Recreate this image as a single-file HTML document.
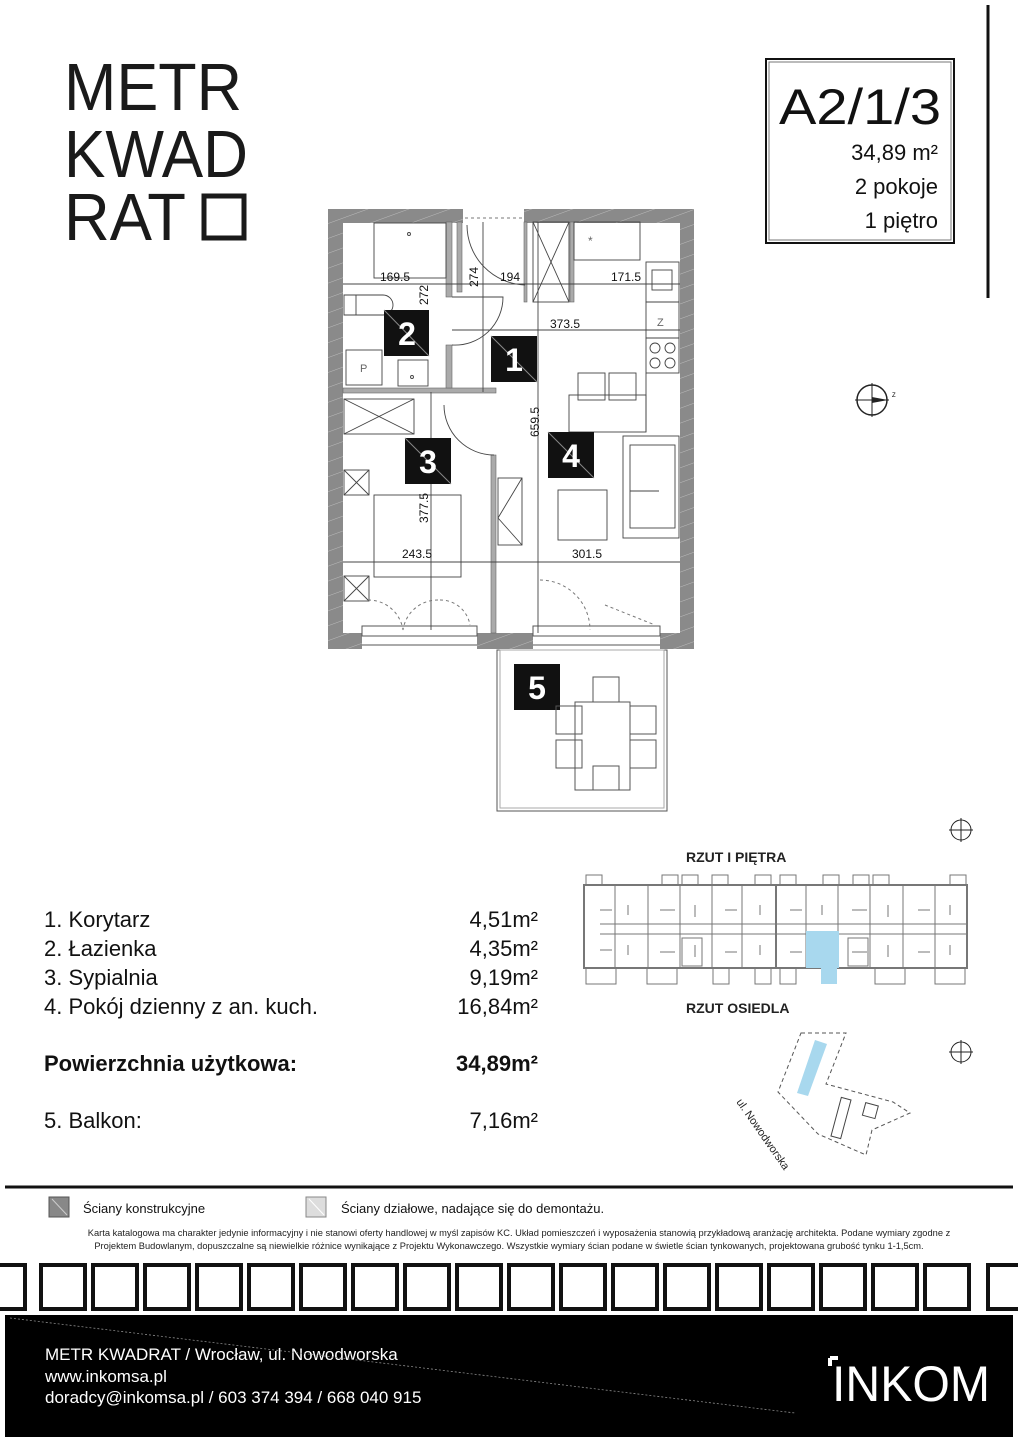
<!DOCTYPE html>
<html><head><meta charset="utf-8"><style>
html,body{margin:0;padding:0;background:#fff}
svg{display:block}
text{font-family:"Liberation Sans",sans-serif}
</style></head><body>
<svg width="1018" height="1440" viewBox="0 0 1018 1440" xmlns="http://www.w3.org/2000/svg">
<defs>
<pattern id="h" width="14" height="14" patternUnits="userSpaceOnUse" patternTransform="rotate(70)">
<rect width="14" height="14" fill="#8a8a8a"/><line x1="0" y1="0" x2="0" y2="14" stroke="#bbb" stroke-width="1"/>
</pattern>
</defs>
<!-- logo -->
<g fill="#1a1a1a" font-size="67">
<text x="64" y="110" textLength="178" lengthAdjust="spacingAndGlyphs">METR</text>
<text x="64" y="177" textLength="184" lengthAdjust="spacingAndGlyphs">KWAD</text>
<text x="64" y="240" textLength="122" lengthAdjust="spacingAndGlyphs">RAT</text>
</g>
<rect x="204" y="196" width="40" height="42" fill="none" stroke="#1a1a1a" stroke-width="5"/>
<!-- title box -->
<rect x="766" y="59" width="188" height="184" fill="none" stroke="#111" stroke-width="2"/>
<rect x="769" y="62" width="182" height="178" fill="none" stroke="#777" stroke-width="1"/>
<line x1="988" y1="5" x2="988" y2="298" stroke="#111" stroke-width="3"/>
<g fill="#111">
<text x="779" y="124" font-size="50" textLength="162" lengthAdjust="spacingAndGlyphs">A2/1/3</text>
<g text-anchor="end">
<text x="938" y="160" font-size="22">34,89 m²</text>
<text x="938" y="194" font-size="22">2 pokoje</text>
<text x="938" y="228" font-size="22">1 piętro</text>
</g></g>
<!-- compass -->
<g stroke="#222" fill="none"><circle cx="872" cy="400" r="15" stroke-width="1.5"/><line x1="855" y1="400" x2="889" y2="400"/><line x1="872" y1="383" x2="872" y2="417"/></g>
<polygon points="872,397 888,400 872,403" fill="#222"/><text x="892" y="397" font-size="6">Z</text>

<!-- floor plan -->
<g>
<rect x="328" y="209" width="366" height="440" fill="url(#h)"/>
<rect x="343" y="223" width="337" height="410" fill="#fff"/>
<rect x="463" y="209" width="61" height="16" fill="#fff"/>
<rect x="362" y="633" width="115" height="16" fill="#fff"/>
<rect x="533" y="633" width="127" height="16" fill="#fff"/>
<g fill="none" stroke="#555" stroke-width="1">
<rect x="362" y="626" width="115" height="10"/><rect x="533" y="626" width="127" height="10"/>
<line x1="362" y1="645" x2="477" y2="645"/><line x1="533" y1="645" x2="660" y2="645"/>
</g>
</g>
<g fill="#aaa" stroke="#666" stroke-width="0.6">
<rect x="343" y="388" width="153" height="5"/>
<rect x="446" y="222" width="6" height="75"/>
<rect x="446" y="345" width="6" height="43"/>
<rect x="491" y="455" width="5" height="178"/>
<rect x="457" y="222" width="5" height="70"/>
<rect x="524" y="222" width="3" height="80"/>
<rect x="570" y="222" width="4" height="80"/>
</g>
<g fill="none" stroke="#444" stroke-width="0.9">
<rect x="374" y="223" width="72" height="55"/><circle cx="409" cy="234" r="1.5"/>
<path d="M344 295 H383 A10 10 0 0 1 383 315 H344 Z"/><line x1="356" y1="295" x2="356" y2="315"/>
<rect x="346" y="350" width="36" height="35"/><text x="360" y="372" font-size="11" fill="#666" stroke="none">P</text>
<rect x="398" y="360" width="30" height="26"/><circle cx="412" cy="377" r="1.5"/>
<path d="M467 225 A60 60 0 0 0 525 285"/>
<path d="M452 297 H503 A48 48 0 0 1 452 345"/>
<path d="M444 405 A50 50 0 0 0 494 455"/>
<rect x="533" y="222" width="36" height="80"/><line x1="533" y1="222" x2="569" y2="302"/><line x1="569" y1="222" x2="533" y2="302"/>
<rect x="574" y="222" width="66" height="38"/><text x="588" y="245" font-size="12" fill="#666" stroke="none">*</text>
<rect x="646" y="262" width="33" height="40"/><rect x="652" y="270" width="20" height="20"/>
<rect x="646" y="302" width="33" height="36"/><text x="657" y="326" font-size="11" fill="#666" stroke="none">Z</text>
<rect x="646" y="338" width="33" height="35"/><circle cx="655" cy="348" r="5"/><circle cx="670" cy="348" r="5"/><circle cx="655" cy="363" r="5"/><circle cx="670" cy="363" r="5"/>
<line x1="646" y1="373" x2="646" y2="432"/>
<rect x="569" y="395" width="77" height="37"/><rect x="578" y="373" width="27" height="27"/><rect x="609" y="373" width="27" height="27"/>
<rect x="623" y="436" width="56" height="102"/><rect x="630" y="445" width="45" height="83"/><line x1="630" y1="491" x2="659" y2="491"/>
<rect x="558" y="490" width="49" height="50"/>
<rect x="344" y="399" width="70" height="35"/><line x1="344" y1="399" x2="414" y2="434"/><line x1="414" y1="399" x2="344" y2="434"/>
<rect x="344" y="470" width="25" height="25"/><line x1="344" y1="470" x2="369" y2="495"/><line x1="369" y1="470" x2="344" y2="495"/>
<rect x="344" y="576" width="25" height="25"/><line x1="344" y1="576" x2="369" y2="601"/><line x1="369" y1="576" x2="344" y2="601"/>
<rect x="374" y="495" width="87" height="82"/>
<rect x="498" y="478" width="24" height="67"/><polyline points="522,478 498,518 522,545"/>
<line x1="343" y1="284" x2="680" y2="284"/><line x1="452" y1="330" x2="680" y2="330"/>
<line x1="538" y1="222" x2="538" y2="633"/><line x1="483" y1="222" x2="483" y2="392"/>
<line x1="431" y1="392" x2="431" y2="630"/>
<line x1="343" y1="562" x2="680" y2="562"/>
</g>
<g stroke="#777" stroke-dasharray="3,3" fill="none">
<path d="M368 600 A35 35 0 0 1 403 630"/><path d="M438 600 A35 35 0 0 0 403 630"/>
<path d="M440 600 A30 30 0 0 1 470 625"/><path d="M540 580 A50 50 0 0 1 590 630"/>
<path d="M605 605 L655 625"/><line x1="465" y1="218" x2="524" y2="218"/>
</g>
<g font-size="12" fill="#111" text-anchor="middle">
<text x="395" y="281">169.5</text><text x="510" y="281">194</text><text x="626" y="281">171.5</text>
<text x="565" y="328">373.5</text><text x="417" y="558">243.5</text><text x="587" y="558">301.5</text>
<text transform="translate(478,277) rotate(-90)">274</text>
<text transform="translate(428,295) rotate(-90)">272</text>
<text transform="translate(539,422) rotate(-90)">659.5</text>
<text transform="translate(428,508) rotate(-90)">377.5</text>
</g>
<g fill="#111"><rect x="384" y="310" width="45" height="46"/><rect x="491" y="336" width="46" height="46"/><rect x="405" y="438" width="46" height="46"/><rect x="548" y="432" width="46" height="46"/><rect x="514" y="664" width="46" height="46"/></g>
<g stroke="#888" stroke-width="1"><line x1="384" y1="310" x2="429" y2="356"/><line x1="491" y1="336" x2="537" y2="382"/><line x1="405" y1="438" x2="451" y2="484"/><line x1="548" y1="432" x2="594" y2="478"/></g>
<g fill="#fff" font-size="32" font-weight="bold" text-anchor="middle">
<text x="407" y="345">2</text><text x="514" y="371">1</text><text x="428" y="473">3</text><text x="571" y="467">4</text><text x="537" y="699">5</text>
</g>
<g fill="none" stroke="#555" stroke-width="1">
<rect x="497" y="650" width="170" height="161"/><rect x="500" y="650" width="164" height="158" stroke="#aaa"/>
<rect x="575" y="702" width="55" height="88"/>
<rect x="593" y="677" width="26" height="25"/><rect x="593" y="766" width="26" height="24"/>
<rect x="556" y="706" width="26" height="28"/><rect x="556" y="740" width="26" height="28"/>
<rect x="630" y="706" width="26" height="28"/><rect x="630" y="740" width="26" height="28"/>
</g>

<g font-size="22" fill="#111">
<text x="44" y="927">1. Korytarz</text><text x="44" y="956">2. Łazienka</text><text x="44" y="985">3. Sypialnia</text><text x="44" y="1014">4. Pokój dzienny z an. kuch.</text>
<text x="44" y="1071" font-weight="bold">Powierzchnia użytkowa:</text>
<text x="44" y="1128">5. Balkon:</text>
<g text-anchor="end"><text x="538" y="927">4,51m²</text><text x="538" y="956">4,35m²</text><text x="538" y="985">9,19m²</text><text x="538" y="1014">16,84m²</text><text x="538" y="1071" font-weight="bold">34,89m²</text><text x="538" y="1128">7,16m²</text></g>
</g>

<g font-size="14" font-weight="bold" fill="#222"><text x="686" y="862">RZUT I PIĘTRA</text><text x="686" y="1013">RZUT OSIEDLA</text></g>
<g fill="none" stroke="#777" stroke-width="2">
<rect x="584" y="885" width="383" height="83"/>
<line x1="600" y1="924" x2="967" y2="924" stroke-width="1"/><line x1="600" y1="934" x2="967" y2="934" stroke-width="1"/>
<line x1="776" y1="885" x2="776" y2="968"/>
<g stroke-width="1">
<path d="M615 885V968M648 885V968M680 885V968M712 885V968M742 885V968M806 885V968M838 885V968M870 885V968M903 885V968M935 885V968"/>
<path d="M600 910h12M628 905v10M660 910h15M695 905v12M725 910h12M760 905v10M790 910h12M822 905v10M852 910h15M888 905v12M918 910h12M950 905v10"/>
<path d="M600 950h12M628 945v10M660 952h15M695 945v12M725 952h12M760 945v10M790 952h12M822 945v10M852 952h15M888 945v12M918 952h12M950 945v10"/>
<rect x="682" y="938" width="20" height="28"/><rect x="848" y="938" width="20" height="28"/>
<rect x="586" y="875" width="16" height="10"/><rect x="662" y="875" width="16" height="10"/><rect x="682" y="875" width="16" height="10"/><rect x="712" y="875" width="16" height="10"/><rect x="755" y="875" width="16" height="10"/><rect x="780" y="875" width="16" height="10"/><rect x="823" y="875" width="16" height="10"/><rect x="853" y="875" width="16" height="10"/><rect x="873" y="875" width="16" height="10"/><rect x="950" y="875" width="16" height="10"/>
<rect x="586" y="968" width="30" height="16"/><rect x="647" y="968" width="30" height="16"/><rect x="713" y="968" width="16" height="16"/><rect x="755" y="968" width="16" height="16"/><rect x="780" y="968" width="16" height="16"/><rect x="875" y="968" width="30" height="16"/><rect x="935" y="968" width="30" height="16"/>
</g></g>
<rect x="806" y="931" width="33" height="37" fill="#a8d8ee"/><rect x="821" y="968" width="16" height="16" fill="#a8d8ee"/>
<g stroke="#222" fill="none"><circle cx="961" cy="830" r="10"/><line x1="949" y1="830" x2="973" y2="830"/><line x1="961" y1="818" x2="961" y2="842"/>
<circle cx="961" cy="1052" r="10"/><line x1="949" y1="1052" x2="973" y2="1052"/><line x1="961" y1="1040" x2="961" y2="1064"/></g>
<path d="M801 1033 L846 1033 L826 1084 L893 1102 L910 1113 L872 1130 L866 1155 L818 1134 L778 1092 Z" fill="none" stroke="#555" stroke-dasharray="4,3"/>
<polygon points="815,1040 827,1044 808,1096 797,1093" fill="#a8d8ee"/>
<rect x="836" y="1098" width="10" height="40" fill="none" stroke="#444" transform="rotate(15 841 1118)"/>
<rect x="864" y="1104" width="13" height="13" fill="none" stroke="#444" transform="rotate(15 870 1110)"/>
<text transform="translate(736,1102) rotate(55)" font-size="11" fill="#222">ul. Nowodworska</text>

<line x1="5" y1="1187" x2="1013" y2="1187" stroke="#111" stroke-width="3"/>
<rect x="49" y="1197" width="20" height="20" fill="#888" stroke="#555"/><line x1="52" y1="1199" x2="67" y2="1215" stroke="#ccc"/>
<rect x="306" y="1197" width="20" height="20" fill="#ddd" stroke="#888"/><line x1="309" y1="1199" x2="324" y2="1215" stroke="#fff"/>
<text x="83" y="1213" font-size="13" fill="#111">Ściany konstrukcyjne</text>
<text x="341" y="1213" font-size="13" fill="#111">Ściany działowe, nadające się do demontażu.</text>
<g font-size="9.3" fill="#222" text-anchor="middle">
<text x="519" y="1236">Karta katalogowa ma charakter jedynie informacyjny i nie stanowi oferty handlowej w myśl zapisów KC. Układ pomieszczeń i wyposażenia stanowią przykładową aranżację architekta. Podane wymiary zgodne z</text>
<text x="509" y="1249">Projektem Budowlanym, dopuszczalne są niewielkie różnice wynikające z Projektu Wykonawczego. Wszystkie wymiary ścian podane w świetle ścian tynkowanych, projektowana grubość tynku 1-1,5cm.</text>
</g>
<g fill="none" stroke="#111" stroke-width="4">
<rect x="-20" y="1265" width="45" height="44"/>
<rect x="41" y="1265" width="44" height="44"/><rect x="93" y="1265" width="44" height="44"/><rect x="145" y="1265" width="44" height="44"/><rect x="197" y="1265" width="44" height="44"/><rect x="249" y="1265" width="44" height="44"/><rect x="301" y="1265" width="44" height="44"/><rect x="353" y="1265" width="44" height="44"/><rect x="405" y="1265" width="44" height="44"/><rect x="457" y="1265" width="44" height="44"/><rect x="509" y="1265" width="44" height="44"/><rect x="561" y="1265" width="44" height="44"/><rect x="613" y="1265" width="44" height="44"/><rect x="665" y="1265" width="44" height="44"/><rect x="717" y="1265" width="44" height="44"/><rect x="769" y="1265" width="44" height="44"/><rect x="821" y="1265" width="44" height="44"/><rect x="873" y="1265" width="44" height="44"/><rect x="925" y="1265" width="44" height="44"/><rect x="988" y="1265" width="44" height="44"/>
</g>
<rect x="5" y="1315" width="1008" height="122" fill="#000"/>
<g fill="#fff" font-size="17"><text x="45" y="1360">METR KWADRAT / Wrocław, ul. Nowodworska</text><text x="45" y="1382">www.inkomsa.pl</text><text x="45" y="1403">doradcy@inkomsa.pl / 603 374 394 / 668 040 915</text></g>
<text x="832" y="1401" font-size="50" fill="#fff" textLength="158" lengthAdjust="spacingAndGlyphs">INKOM</text>
<path d="M830 1358 V1366 M830 1358 H838" stroke="#fff" stroke-width="4" fill="none"/>
<line x1="10" y1="1318" x2="795" y2="1413" stroke="#888" stroke-width="0.8" stroke-dasharray="2,2"/>
</svg>
</body></html>
